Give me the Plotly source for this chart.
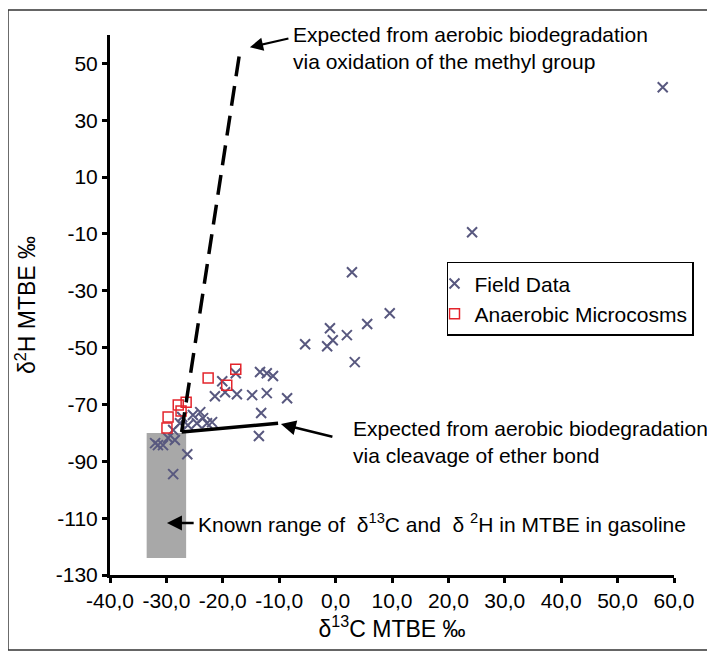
import plotly.graph_objects as go

# ---------------- data ----------------
field_c = [58.0, 24.2, 2.9, 9.6, 5.6, -1.0, -0.5, 2.0, -1.5, -5.4, 3.4,
           -13.4, -12.2, -11.1, -17.7, -20.1, -21.4, -19.6, -17.5, -14.8, -12.2,
           -8.6, -13.2, -13.6, -24.0, -23.5, -25.3, -21.9, -24.6, -26.2, -22.8,
           -27.6, -28.8, -27.2, -31.5, -30.6, -32.0, -28.5, -29.7, -26.3, -28.8]
field_h = [41.6, -9.4, -23.5, -37.9, -41.7, -43.2, -47.4, -45.6, -49.5, -48.8, -55.1,
           -58.6, -59.0, -60.0, -59.0, -61.8, -67.1, -65.7, -66.4, -66.7, -66.0,
           -67.8, -73.0, -81.1, -72.7, -74.8, -73.7, -76.2, -76.6, -77.3, -76.6,
           -76.6, -79.0, -74.4, -84.3, -84.3, -83.6, -82.5, -81.8, -87.5, -94.5]

micro_c = [-17.7, -22.6, -19.3, -26.5, -27.9, -27.4, -29.7, -29.9]
micro_h = [-57.6, -60.7, -63.2, -69.2, -70.2, -72.3, -74.4, -78.3]

# expected trends
methyl_c = [-27.3, -17.0]
methyl_h = [-79.7, 53.9]
ether_c = [-27.3, -10.2]
ether_h = [-79.7, -76.6]

# known range of MTBE in gasoline
gasoline_c = [-33.5, -26.5]
gasoline_h = [-124.0, -80.0]

x_ticks = [-40, -30, -20, -10, 0, 10, 20, 30, 40, 50, 60]
x_ticktext = ["-40,0", "-30,0", "-20,0", "-10,0", "0,0", "10,0", "20,0",
              "30,0", "40,0", "50,0", "60,0"]
y_ticks = [50, 30, 10, -10, -30, -50, -70, -90, -110, -130]
y_ticktext = ["50", "30", "10", "-10", "-30", "-50", "-70", "-90", "-110", "-130"]

FONT = "Liberation Sans, Arial, Helvetica, sans-serif"

fig = go.Figure()

# gray box
fig.add_trace(go.Scatter(
    x=[gasoline_c[0], gasoline_c[1], gasoline_c[1], gasoline_c[0], gasoline_c[0]],
    y=[gasoline_h[0], gasoline_h[0], gasoline_h[1], gasoline_h[1], gasoline_h[0]],
    mode="lines", fill="toself", fillcolor="#a8a8a8", line=dict(width=0, color="#a8a8a8"),
    showlegend=False, hoverinfo="skip"))

fig.add_trace(go.Scatter(
    x=field_c, y=field_h, mode="markers", name="Field Data",
    marker=dict(symbol="x-thin", size=10, line=dict(width=2, color="#58587f"),
                color="#58587f")))

fig.add_trace(go.Scatter(
    x=micro_c, y=micro_h, mode="markers", name="Anaerobic Microcosms",
    marker=dict(symbol="square-open", size=10, line=dict(width=1.5, color="#e3242b"),
                color="#e3242b")))

fig.add_trace(go.Scatter(
    x=methyl_c, y=methyl_h, mode="lines",
    line=dict(color="black", width=3.5, dash="20px,10px"),
    showlegend=False, hoverinfo="skip"))

fig.add_trace(go.Scatter(
    x=ether_c, y=ether_h, mode="lines",
    line=dict(color="black", width=3.5),
    showlegend=False, hoverinfo="skip"))

tfont = dict(family=FONT, size=21, color="black")

annotations = [
    dict(x=-7.9, y=55.3, xref="x", yref="y", xanchor="left", yanchor="middle",
         text="Expected from aerobic biodegradation<br>via oxidation of the methyl group",
         showarrow=False, align="left", font=tfont),
    dict(x=2.7, y=-83.1, xref="x", yref="y", xanchor="left", yanchor="middle",
         text="Expected from aerobic biodegradation<br>via cleavage of ether bond",
         showarrow=False, align="left", font=tfont),
    dict(x=-24.8, y=-111.7, xref="x", yref="y", xanchor="left", yanchor="middle",
         text="Known range of  δ<sup>13</sup>C and  δ <sup>2</sup>H in MTBE in gasoline",
         showarrow=False, align="left", font=tfont),
    # arrows
    dict(x=-15.2, y=55.7, ax=-8.1, ay=58.9, xref="x", yref="y", axref="x", ayref="y",
         text="", showarrow=True, arrowhead=2, arrowsize=1.2, arrowwidth=2.2, arrowcolor="black"),
    dict(x=-9.7, y=-76.9, ax=-0.3, ay=-81.5, xref="x", yref="y", axref="x", ayref="y",
         text="", showarrow=True, arrowhead=2, arrowsize=1.2, arrowwidth=2.5, arrowcolor="black"),
    dict(x=-29.9, y=-111.7, ax=-24.9, ay=-111.7, xref="x", yref="y", axref="x", ayref="y",
         text="", showarrow=True, arrowhead=2, arrowsize=1.2, arrowwidth=2.5, arrowcolor="black"),
]

shapes = [
    dict(type="rect", xref="paper", yref="paper", x0=-0.1809, x1=1.0603, y0=-0.1389, y1=1.0463,
         line=dict(color="#333333", width=1.5), layer="below"),
    dict(type="line", xref="paper", yref="paper", x0=1.0665, x1=1.0665, y0=-0.145, y1=1.04,
         line=dict(color="#9a9a9a", width=4)),
]

axis_common = dict(showline=True, linewidth=3, linecolor="black", ticks="outside",
                   ticklen=5, tickwidth=3, tickcolor="black", showgrid=False,
                   zeroline=False, tickfont=dict(family=FONT, size=21, color="black"))

# page body has an 8px margin: margins are shifted to keep the plot where the reference has it
fig.update_layout(
    width=715, height=656,
    margin=dict(l=102, r=49, t=27, b=89),
    paper_bgcolor="white", plot_bgcolor="white",
    font=dict(family=FONT, color="black"),
    xaxis=dict(range=[-40, 60], tickvals=x_ticks, ticktext=x_ticktext,
               title=dict(text="δ<sup>13</sup>C MTBE ‰", font=dict(family=FONT, size=23),
                          standoff=8), **axis_common),
    yaxis=dict(range=[-130, 60], tickvals=y_ticks, ticktext=y_ticktext,
               title=dict(text="δ<sup>2</sup>H MTBE ‰", font=dict(family=FONT, size=23),
                          standoff=14), **axis_common),
    legend=dict(x=0.5975, y=0.58, xanchor="left", yanchor="top",
                bordercolor="black", borderwidth=1.5, bgcolor="white",
                font=dict(family=FONT, size=21), indentation=-14, itemwidth=30,
                tracegroupgap=0),
    annotations=annotations, shapes=shapes,
)

fig.write_html("out.html")
